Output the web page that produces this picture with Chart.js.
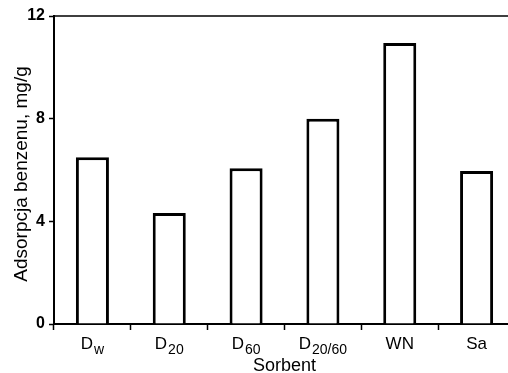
<!DOCTYPE html>
<html>
<head>
<meta charset="utf-8">
<script src="https://cdn.jsdelivr.net/npm/chart.js@4/dist/chart.umd.min.js"></script>
<style>
  html, body { margin: 0; padding: 0; background: #fff; overflow: hidden; }
  #wrap { width: 515px; height: 373px; }
</style>
</head>
<body>
<div id="wrap"><canvas id="chart" width="515" height="373"></canvas></div>
<script>
// sorbent names: main part + subscript
const labelMain = ['D', 'D', 'D', 'D', 'WN', 'Sa'];
const labelSub = ['w', '20', '60', '20/60', '', ''];
const adsorption = [6.5, 4.32, 6.07, 8.0, 10.95, 5.96];
const yTicks = [0, 4, 8, 12];
const xTitle = 'Sorbent';
const yTitle = 'Adsorpcja benzenu, mg/g';

const FONT = '"Liberation Sans", Arial, sans-serif';

// frame on top/right, x labels with subscripts and axis titles
const framePlugin = {
    id: 'frame',
    afterDraw(chart) {
        const { ctx, chartArea } = chart;
        ctx.save();
        ctx.strokeStyle = '#000';
        ctx.lineWidth = 1.5;
        ctx.beginPath();
        ctx.moveTo(chartArea.left, chartArea.top);
        ctx.lineTo(chartArea.right, chartArea.top);
        ctx.lineTo(chartArea.right, chartArea.bottom);
        ctx.stroke();

        const xScale = chart.scales.x;
        ctx.fillStyle = '#000';
        ctx.textBaseline = 'alphabetic';
        ctx.textAlign = 'left';
        labelMain.forEach((main, i) => {
            ctx.font = '17px ' + FONT;
            const wMain = ctx.measureText(main).width;
            ctx.font = '14px ' + FONT;
            const wSub = labelSub[i] ? ctx.measureText(labelSub[i]).width + 1 : 0;
            const cx = xScale.getPixelForValue(i);
            const x0 = cx - (wMain + wSub) / 2;
            const base = 349;
            ctx.font = '17px ' + FONT;
            ctx.fillText(main, x0, base);
            if (labelSub[i]) {
                ctx.font = '14px ' + FONT;
                ctx.fillText(labelSub[i], x0 + wMain + 1, base + 5);
            }
        });

        // x title
        ctx.font = '18px ' + FONT;
        ctx.textAlign = 'center';
        ctx.fillText(xTitle, (chartArea.left + chartArea.right) / 2, 371);

        // y title
        ctx.translate(27, (chartArea.top + chartArea.bottom) / 2 + 4);
        ctx.rotate(-Math.PI / 2);
        ctx.font = '19px ' + FONT;
        ctx.fillText(yTitle, 0, 0);
        ctx.restore();
    }
};

new Chart(document.getElementById('chart').getContext('2d'), {
    type: 'bar',
    data: {
        labels: labelMain.map((m, i) => m + labelSub[i]),
        datasets: [{
            data: adsorption,
            backgroundColor: '#ffffff',
            borderColor: '#000000',
            borderWidth: 3,
            barPercentage: 0.43,
            categoryPercentage: 1.0
        }]
    },
    options: {
        responsive: false,
        animation: false,
        layout: { padding: { top: 16, right: 0, left: 0, bottom: 0 } },
        plugins: {
            legend: { display: false },
            tooltip: { enabled: false }
        },
        scales: {
            x: {
                afterFit(scale) { scale.height = 49; },
                ticks: { display: false },
                grid: {
                    offset: true,
                    drawOnChartArea: false,
                    tickLength: 6,
                    tickColor: '#000',
                    tickWidth: 1.5
                },
                border: { color: '#000', width: 2 }
            },
            y: {
                min: 0,
                max: 12,
                afterFit(scale) { scale.width = 54; },
                afterBuildTicks(scale) { scale.ticks = yTicks.map(v => ({ value: v })); },
                ticks: {
                    color: '#000',
                    padding: 4,
                    font: { family: FONT, size: 16, weight: 'bold' }
                },
                grid: {
                    drawOnChartArea: false,
                    tickLength: 5,
                    tickColor: '#000',
                    tickWidth: 1.5
                },
                border: { color: '#000', width: 2 }
            }
        }
    },
    plugins: [framePlugin]
});
</script>
</body>
</html>
